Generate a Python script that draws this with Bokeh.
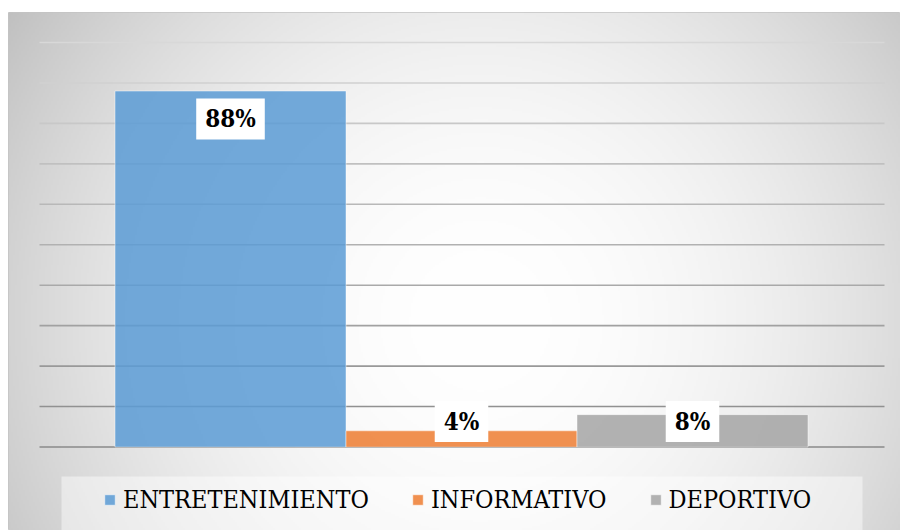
import numpy as np
from bokeh.plotting import figure
from bokeh.models import Range1d, Legend, LegendItem, BoxAnnotation, ColumnDataSource
from bokeh.core.properties import value
from bokeh.embed import file_html
from bokeh.resources import INLINE

# ---- data ----
categories = ["ENTRETENIMIENTO", "INFORMATIVO", "DEPORTIVO"]
percentages = [88, 4, 8]
labels = ["88%", "4%", "8%"]
grid_values = [0, 10, 20, 30, 40, 50, 60, 70, 80, 90, 100]
bar_colors = ["#5b9bd5", "#ed7d31", "#a5a5a5"]

LEGEND_FONT = "DejaVu Serif Condensed"
LABEL_FONT = "DejaVu Serif Condensed"

# ---- layout (canvas pixels) ----
W, H = 900, 530
LEFT, TOP = 8, 12
PX_Y = 4.045
BASE_Y = 446.5
PX_X = 231.0
C0_X = 230.0

def dx(cx):
    return (cx - C0_X) / PX_X

def dy(cy):
    return (BASE_Y - cy) / PX_Y

x0, x1 = dx(LEFT), dx(W)
y0, y1 = dy(H), dy(TOP)

p = figure(width=W, height=H, x_range=Range1d(x0, x1), y_range=Range1d(y0, y1),
           x_axis_location=None, y_axis_location=None, toolbar_location=None,
           output_backend="svg", min_border_left=LEFT, min_border_right=0,
           min_border_top=TOP, min_border_bottom=0, border_fill_color="white",
           outline_line_color="#c4c4c4", outline_line_width=1)
p.xgrid.visible = False
p.ygrid.visible = False

FW, FH = W - LEFT, H - TOP
nx, ny = FW // 2, FH // 2
cx = LEFT + (np.arange(nx) + 0.5) * 2
cy = H - (np.arange(ny) + 0.5) * 2
XX, YY = np.meshgrid(cx, cy)
d = np.sqrt((XX - 480) ** 2 + (YY - 320) ** 2) / 560.0
g = np.clip(255 - 62 * np.clip(d, 0, 1.15) ** 2, 0, 255).astype(np.uint8)
img = np.empty((ny, nx), dtype=np.uint32)
view = img.view(dtype=np.uint8).reshape((ny, nx, 4))
view[:, :, 0] = g
view[:, :, 1] = g
view[:, :, 2] = g
view[:, :, 3] = 255
p.image_rgba(image=[img], x=x0, y=y0, dw=x1 - x0, dh=y1 - y0)

gv = np.array(grid_values, dtype=float)
shade = (138 + (216 - 138) * gv / 100.0).astype(int)
grid_cols = ["#%02x%02x%02x" % (s, s, s) for s in shade]
p.segment(x0=[dx(39)] * len(gv), x1=[dx(884)] * len(gv), y0=gv, y1=gv,
          line_color=grid_cols, line_width=1.6)

xs = list(range(len(categories)))
src = ColumnDataSource(dict(x=xs, top=percentages, color=bar_colors, cat=categories))
bars = p.vbar(x="x", top="top", bottom=0, width=1.0, source=src,
              fill_color="color", fill_alpha=0.85,
              line_color="white", line_alpha=0.45, line_width=1)

vals = np.array(percentages, dtype=float)
label_y = np.maximum(vals - 6.9, 6.3)
lsrc = ColumnDataSource(dict(x=xs, y=label_y, text=labels))
p.text(x="x", y="y", text="text", source=lsrc,
       text_font=value(LABEL_FONT), text_font_style="bold",
       text_font_size="24px", text_align="center", text_baseline="middle",
       text_color="black", background_fill_color="white",
       padding=dict(left=9, right=9, top=6, bottom=6))

p.add_layout(BoxAnnotation(left=dx(61), right=dx(862), top=dy(476), bottom=y0,
                           fill_color="white", fill_alpha=0.45, line_alpha=0))

legend = Legend(items=[LegendItem(label=c, renderers=[bars], index=i)
                       for i, c in enumerate(categories)],
                orientation="horizontal", location=(95, 16), padding=0, margin=0,
                spacing=42, label_standoff=7, glyph_width=13, glyph_height=13,
                label_height=29, label_text_font=LEGEND_FONT,
                label_text_font_size="25px", label_text_color="black",
                background_fill_alpha=0, border_line_alpha=0)
p.add_layout(legend)

open("out.html", "w").write(file_html(p, INLINE))
